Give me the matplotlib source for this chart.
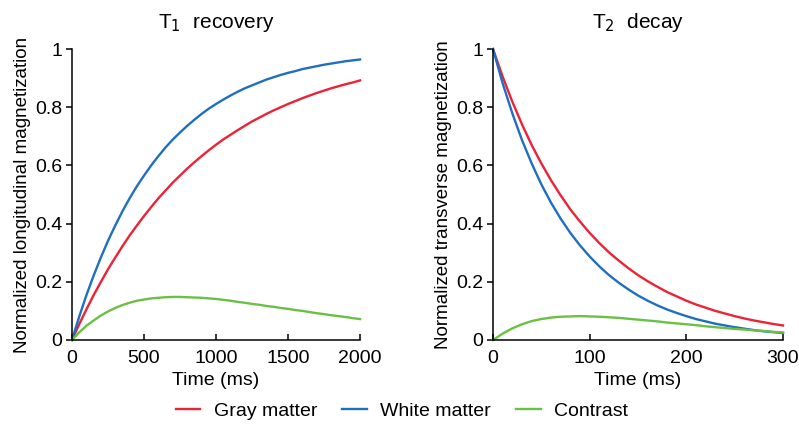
import matplotlib
matplotlib.use("Agg")
import matplotlib.pyplot as plt

plt.rcParams['font.family'] = ['Liberation Sans', 'DejaVu Sans']

# T1 recovery, values (every 50 ms)
t1_time = [0, 50, 100, 150, 200, 250, 300, 350, 400, 450, 500, 550, 600, 650, 700,
           750, 800, 850, 900, 950, 1000, 1050, 1100, 1150, 1200, 1250, 1300, 1350,
           1400, 1450, 1500, 1550, 1600, 1650, 1700, 1750, 1800, 1850, 1900, 1950, 2000]
t1_gray = [0, 0.054, 0.105, 0.154, 0.199, 0.243, 0.283, 0.322, 0.359, 0.393, 0.426,
           0.457, 0.487, 0.514, 0.541, 0.565, 0.589, 0.611, 0.632, 0.652, 0.671,
           0.689, 0.705, 0.721, 0.736, 0.751, 0.764, 0.777, 0.789, 0.800, 0.811,
           0.821, 0.831, 0.840, 0.849, 0.857, 0.865, 0.872, 0.879, 0.885, 0.892]
t1_white = [0, 0.080, 0.154, 0.221, 0.283, 0.341, 0.393, 0.442, 0.487, 0.528, 0.565,
            0.600, 0.632, 0.662, 0.689, 0.713, 0.736, 0.757, 0.777, 0.795, 0.811,
            0.826, 0.840, 0.853, 0.865, 0.875, 0.885, 0.895, 0.903, 0.911, 0.918,
            0.924, 0.931, 0.936, 0.941, 0.946, 0.950, 0.954, 0.958, 0.961, 0.964]
t1_contrast = [0, 0.026, 0.049, 0.067, 0.084, 0.098, 0.110, 0.120, 0.128, 0.135, 0.139,
               0.143, 0.145, 0.147, 0.148, 0.148, 0.147, 0.146, 0.145, 0.143, 0.141,
               0.138, 0.135, 0.131, 0.128, 0.124, 0.121, 0.117, 0.114, 0.110, 0.107,
               0.103, 0.100, 0.096, 0.092, 0.089, 0.085, 0.082, 0.079, 0.075, 0.072]

# T2 decay, values (every 10 ms)
t2_time = [0, 10, 20, 30, 40, 50, 60, 70, 80, 90, 100, 110, 120, 130, 140, 150,
           160, 170, 180, 190, 200, 210, 220, 230, 240, 250, 260, 270, 280, 290, 300]
t2_gray = [1.0, 0.905, 0.819, 0.741, 0.670, 0.607, 0.549, 0.497, 0.449, 0.407, 0.368,
           0.333, 0.301, 0.273, 0.247, 0.223, 0.202, 0.183, 0.165, 0.150, 0.135,
           0.122, 0.111, 0.100, 0.091, 0.082, 0.074, 0.067, 0.061, 0.055, 0.050]
t2_white = [1.0, 0.882, 0.779, 0.687, 0.607, 0.535, 0.472, 0.417, 0.368, 0.325, 0.287,
            0.253, 0.223, 0.197, 0.174, 0.153, 0.135, 0.119, 0.105, 0.093, 0.082,
            0.072, 0.064, 0.056, 0.050, 0.044, 0.039, 0.034, 0.030, 0.027, 0.024]
t2_contrast = [0, 0.022, 0.040, 0.054, 0.065, 0.072, 0.077, 0.080, 0.081, 0.082, 0.081,
               0.080, 0.078, 0.076, 0.073, 0.070, 0.067, 0.064, 0.060, 0.057, 0.054,
               0.051, 0.047, 0.044, 0.041, 0.038, 0.036, 0.033, 0.031, 0.028, 0.026]

labels = ['Gray matter', 'White matter', 'Contrast']
colors = ['#ec2235', '#1f6fc0', '#6cbf45']
yticks = [0, 0.2, 0.4, 0.6, 0.8, 1]
ytick_labels = ['0', '0.2', '0.4', '0.6', '0.8', '1']

fig = plt.figure(figsize=(7.99, 4.25), dpi=100)
ax1 = fig.add_axes([0.0901, 0.2, 0.3605, 0.6847])
ax2 = fig.add_axes([0.617, 0.2, 0.363, 0.6847])

lw = 1.7
for ys, c, lab in zip([t1_gray, t1_white, t1_contrast], colors, labels):
    ax1.plot(t1_time, ys, color=c, lw=lw, label=lab, clip_on=False)
for ys, c in zip([t2_gray, t2_white, t2_contrast], colors):
    ax2.plot(t2_time, ys, color=c, lw=lw, clip_on=False)

ax1.set_xlim(0, 2000)
ax1.set_xticks([0, 500, 1000, 1500, 2000])
ax2.set_xlim(0, 300)
ax2.set_xticks([0, 100, 200, 300])

for ax in (ax1, ax2):
    ax.set_ylim(0, 1)
    ax.set_yticks(yticks)
    ax.set_yticklabels(ytick_labels)
    for s in ('top', 'right'):
        ax.spines[s].set_visible(False)
    for s in ('left', 'bottom'):
        ax.spines[s].set_linewidth(1.1)
    ax.tick_params(axis='y', direction='out', length=4, width=1.1, labelsize=14, pad=3)
    ax.tick_params(axis='x', direction='in', length=4, width=1.1, labelsize=14, pad=7)
    ax.set_xlabel('Time (ms)', fontsize=14, labelpad=4)

ax1.set_ylabel('Normalized longitudinal magnetization', fontsize=13.5, labelpad=3)
ax2.set_ylabel('Normalized transverse magnetization', fontsize=13.5, labelpad=3)
ax1.set_title(r'T$_1$  recovery', fontsize=15, pad=15)
ax2.set_title(r'T$_2$  decay', fontsize=15, pad=15)

fig.legend(loc='lower center', ncol=3, frameon=False, fontsize=14,
           bbox_to_anchor=(0.503, -0.03), handlelength=1.25, columnspacing=1.3,
           handletextpad=0.7)

fig.savefig('out.png', dpi=100)
